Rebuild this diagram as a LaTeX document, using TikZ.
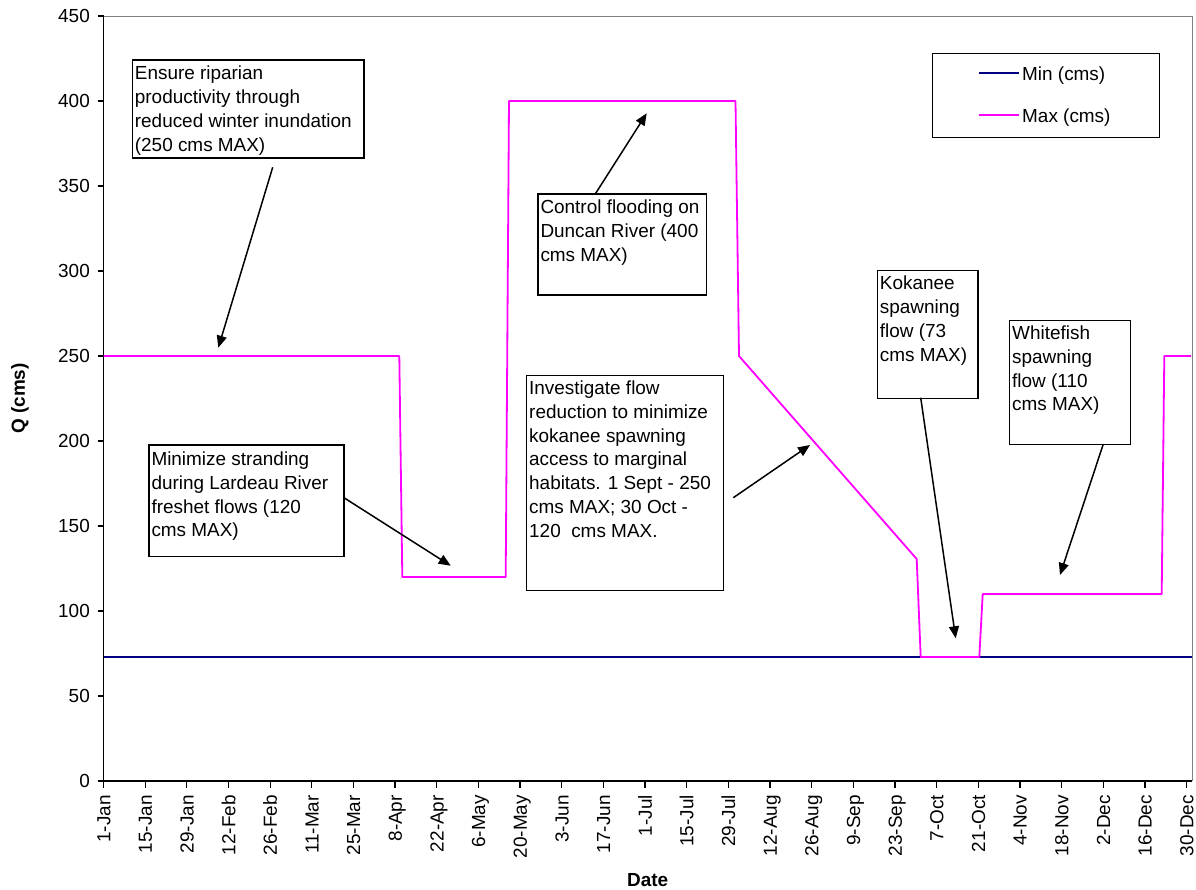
\documentclass[tikz,border=0pt]{standalone}
\usepackage{fontspec}
\setmainfont{Liberation Sans}
\usetikzlibrary{arrows.meta}
\definecolor{navyline}{RGB}{0,0,128}
\definecolor{maxmag}{RGB}{255,0,255}
\definecolor{framegray}{RGB}{128,128,128}
\begin{document}
\begin{tikzpicture}[x=1bp,y=-1bp,
  lbl/.style={font=\fontsize{19}{24}\selectfont, inner sep=0pt},
  ttl/.style={font=\fontsize{19}{24}\selectfont\bfseries, inner sep=0pt},
  annbox/.style={draw=black, line width=1.2bp, fill=white, rectangle, inner sep=0pt, anchor=north west},
  anntext/.style={font=\fontsize{19}{24}\selectfont, inner sep=0pt, align=left, anchor=north west},
  pointer/.style={draw=black, line width=1.5bp, -{Triangle[length=12bp,width=10bp]}},
  minl/.style={draw=navyline, line width=1.8bp},
  maxl/.style={draw=maxmag, line width=1.8bp, line join=round}]
\useasboundingbox[fill=white] (0,0) rectangle (1196,890);

% plot frame
\draw[framegray, line width=1bp] (103.5,16) -- (1192,16) -- (1192,781);
\draw[black, line width=1.3bp] (103.5,16) -- (103.5,781) -- (1192,781);

% y ticks
\foreach \v in {0,50,...,450}{
  \pgfmathsetmacro\yy{781-1.7*\v}
  \draw[black, line width=1.2bp] (97.5,\yy) -- (103.5,\yy);
  \node[lbl, anchor=east] at (90,\yy) {\v};
}
% x ticks
\foreach \lab [count=\i from 0] in {1-Jan,15-Jan,29-Jan,12-Feb,26-Feb,11-Mar,25-Mar,8-Apr,22-Apr,6-May,20-May,3-Jun,17-Jun,1-Jul,15-Jul,29-Jul,12-Aug,26-Aug,9-Sep,23-Sep,7-Oct,21-Oct,4-Nov,18-Nov,2-Dec,16-Dec,30-Dec}{
  \pgfmathsetmacro\xx{103.5+41.656*\i}
  \draw[black, line width=1.2bp] (\xx,781) -- (\xx,787.5);
  \node[lbl, rotate=90, anchor=east, text depth=0pt, text height=13.6bp] at (\xx,795) {\lab};
}

% axis titles
\node[ttl, rotate=90] (qtitle) at (20,398.5) {Q (cms)};
\node[ttl, anchor=base] (dtitle) at (647.7,886) {Date};

% data
\draw[minl] (103.5,657) -- (1192,657);
\draw[maxl] (103.5,356) -- (399.3,356) -- (402.3,577) -- (505.7,577) -- (509,101)
  -- (735.5,101) -- (739,356) -- (916.7,559) -- (920.7,657) -- (979.3,657)
  -- (982.7,594) -- (1161.7,594) -- (1164.3,356) -- (1191,356);

% annotation boxes
\node[annbox, minimum width=231.6bp, minimum height=98bp] (b1) at (131.7,59.3) {};
\node[anntext] (t1) at ([shift={(3,6)}]b1.north west) {\rule{0pt}{14bp}Ensure riparian\\productivity through\\reduced winter inundation\\(250 cms MAX)};

\node[annbox, minimum width=168.4bp, minimum height=101bp] (b2) at (537.3,193.3) {};
\node[anntext] (t2) at ([shift={(3,6)}]b2.north west) {\rule{0pt}{14bp}Control flooding on\\Duncan River (400\\cms MAX)};

\node[annbox, minimum width=195bp, minimum height=111.4bp] (b3) at (148.3,444.3) {};
\node[anntext] (t3) at ([shift={(3,6.7)}]b3.north west) {\rule{0pt}{14bp}Minimize stranding\\during Lardeau River\\freshet flows (120\\cms MAX)};

\node[annbox, minimum width=196.7bp, minimum height=215bp] (b4) at (526,375) {};
\node[anntext] (t4) at ([shift={(3,5)}]b4.north west) {\rule{0pt}{14bp}Investigate flow\\reduction to minimize\\kokanee spawning\\access to marginal\\habitats. 1 Sept - 250\\cms MAX; 30 Oct -\\120\ \ cms MAX.};

\node[annbox, minimum width=100.6bp, minimum height=127.7bp] (b5) at (876.7,270) {};
\node[anntext] (t5) at ([shift={(3,5.3)}]b5.north west) {\rule{0pt}{14bp}Kokanee\\spawning\\flow (73\\cms MAX)};

\node[annbox, minimum width=121bp, minimum height=124bp] (b6) at (1009,320) {};
\node[anntext] (t6) at ([shift={(3,5)}]b6.north west) {\rule{0pt}{14bp}Whitefish\\spawning\\flow (110\\cms MAX)};

% arrows
\coordinate (a1s) at (272.7,167.3);
\coordinate (a1t) at (218.3,347.7);
\coordinate (a2s) at (595.7,193.3);
\coordinate (a2t) at (646.7,113.3);
\coordinate (a3s) at (343.3,497.3);
\coordinate (a3t) at (450.7,565.7);
\coordinate (a4s) at (733.3,497.7);
\coordinate (a4t) at (810,445);
\coordinate (a5s) at (920.7,397.7);
\coordinate (a5t) at (955.7,638.3);
\coordinate (a6s) at (1103.3,444);
\coordinate (a6t) at (1060,575);
\draw[pointer] (a1s) -- (a1t);
\draw[pointer] (a2s) -- (a2t);
\draw[pointer] (a3s) -- (a3t);
\draw[pointer] (a4s) -- (a4t);
\draw[pointer] (a5s) -- (a5t);
\draw[pointer] (a6s) -- (a6t);

% legend
\node[draw=black, line width=1bp, rectangle, inner sep=0pt, anchor=north west, minimum width=227.3bp, minimum height=84bp] (leg) at (931.7,52.7) {};
\coordinate (lmin1) at (979.3,73.3);
\coordinate (lmin2) at (1019,73.3);
\coordinate (lmax1) at (979.3,115.3);
\coordinate (lmax2) at (1019,115.3);
\draw[minl] (lmin1) -- (lmin2);
\draw[maxl] (lmax1) -- (lmax2);
\node[lbl, anchor=base west] (lminT) at (1022,80.8) {Min (cms)};
\node[lbl, anchor=base west] (lmaxT) at (1022,122.8) {Max (cms)};
\end{tikzpicture}
\end{document}
